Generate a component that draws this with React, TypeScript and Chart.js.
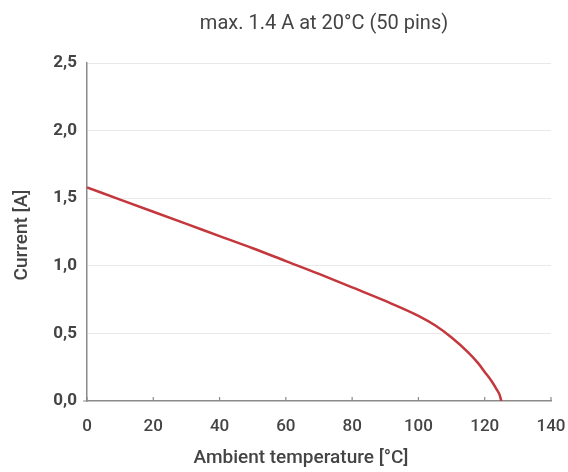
import React, { useEffect, useRef } from "react";
import { Chart, registerables } from "chart.js";

Chart.register(...registerables);

const chartTitle = "max. 1.4 A at 20°C (50 pins)";
const xAxisTitle = "Ambient temperature [°C]";
const yAxisTitle = "Current [A]";

const temperatures = [0, 10, 20, 30, 40, 50, 60, 70, 80, 90, 100, 105, 110, 115, 118, 120, 122, 123.5, 124.5, 125];
const currents = [1.58, 1.49, 1.40, 1.31, 1.22, 1.13, 1.035, 0.94, 0.84, 0.74, 0.63, 0.56, 0.47, 0.36, 0.28, 0.215, 0.15, 0.09, 0.045, 0];

const xTicks = [0, 20, 40, 60, 80, 100, 120, 140];
const yTicks = [0, 0.5, 1.0, 1.5, 2.0, 2.5];

const FONT = "Roboto, 'Liberation Sans', Arial, sans-serif";
const TEXT = "#444444";
const AXIS = "#8a8a8a";

export default function App() {
  const ref = useRef<HTMLCanvasElement | null>(null);

  useEffect(() => {
    document.body.style.margin = "0";
    const canvas = ref.current;
    if (!canvas) return;

    const overlay = {
      id: "overlay",
      afterDraw(chart: any) {
        const ctx = chart.ctx;
        const area = chart.chartArea;
        const xs = chart.scales.x;
        ctx.save();
        ctx.strokeStyle = AXIS;
        ctx.lineWidth = 1.2;
        ctx.beginPath();
        for (const v of xTicks) {
          const px = xs.getPixelForValue(v);
          ctx.moveTo(px, area.bottom);
          ctx.lineTo(px, area.bottom - 4);
        }
        ctx.moveTo(area.left - 4, area.bottom);
        ctx.lineTo(area.left, area.bottom);
        ctx.stroke();

        ctx.fillStyle = TEXT;
        ctx.textAlign = "center";
        ctx.textBaseline = "middle";
        ctx.font = `20px ${FONT}`;
        ctx.fillText(chartTitle, 324, 24);
        ctx.font = `500 19px ${FONT}`;
        ctx.fillText(xAxisTitle, 301, 458);
        ctx.translate(22, 235);
        ctx.rotate(-Math.PI / 2);
        ctx.fillText(yAxisTitle, 0, 0);
        ctx.restore();
      },
    };

    const chart = new Chart(canvas, {
      type: "line",
      data: {
        datasets: [
          {
            data: temperatures.map((t, i) => ({ x: t, y: currents[i] })),
            borderColor: "#c4373d",
            borderWidth: 2.5,
            pointRadius: 0,
            fill: false,
            cubicInterpolationMode: "monotone",
          },
        ],
      },
      options: {
        animation: false,
        responsive: false,
        layout: { padding: { top: 63, right: 17, left: 0, bottom: 0 } },
        plugins: { legend: { display: false }, title: { display: false }, tooltip: { enabled: false } },
        scales: {
          x: {
            type: "linear",
            min: 0,
            max: 140,
            afterFit: (s: any) => {
              s.height = 71;
              s.paddingLeft = 0;
              s.paddingRight = 0;
            },
            afterBuildTicks: (s: any) => {
              s.ticks = xTicks.map((v) => ({ value: v }));
            },
            grid: { display: false },
            border: { display: true, color: AXIS, width: 1.5 },
            ticks: {
              padding: 8,
              color: TEXT,
              font: { family: FONT, size: 17, weight: "500" },
              callback: (v: any) => String(v),
            },
          },
          y: {
            min: 0,
            max: 2.5,
            afterFit: (s: any) => {
              s.width = 87;
              s.paddingTop = 0;
              s.paddingBottom = 0;
            },
            afterBuildTicks: (s: any) => {
              s.ticks = yTicks.map((v) => ({ value: v }));
            },
            grid: {
              drawTicks: false,
              color: (c: any) => (c.tick && c.tick.value === 0 ? "rgba(0,0,0,0)" : "#e9e9e9"),
              lineWidth: 1,
            },
            border: { display: true, color: AXIS, width: 1.5 },
            ticks: {
              padding: 10,
              color: TEXT,
              font: { family: FONT, size: 17, weight: "bold" },
              callback: (v: any) => Number(v).toFixed(1).replace(".", ","),
            },
          },
        },
      },
      plugins: [overlay],
    } as any);

    return () => chart.destroy();
  }, []);

  return (
    <div style={{ width: 568, height: 472 }}>
      <canvas ref={ref} width={568} height={472} style={{ width: 568, height: 472, display: "block" }} />
    </div>
  );
}
